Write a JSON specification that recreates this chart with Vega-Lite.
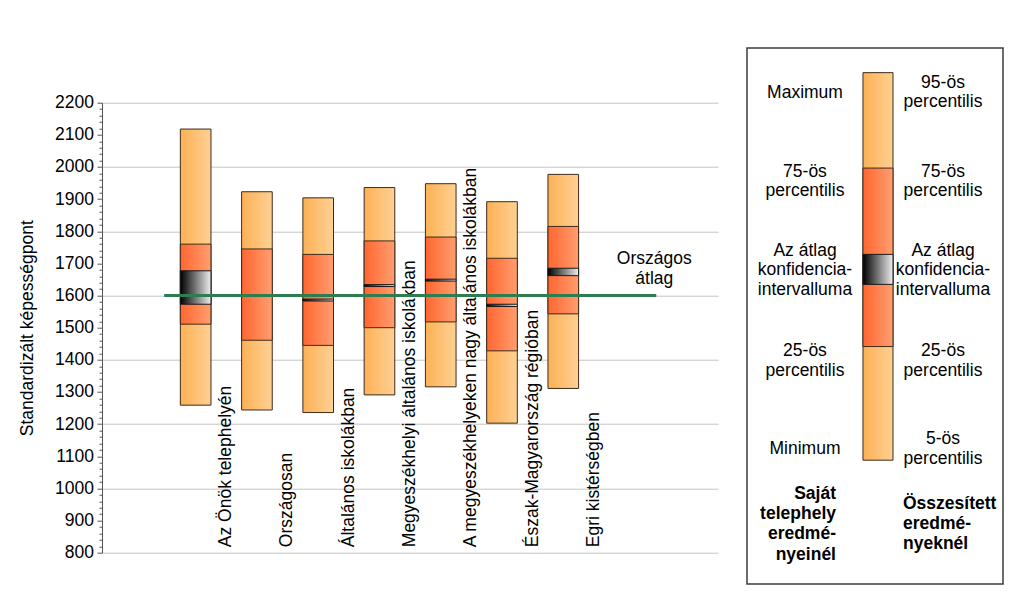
{
  "$schema": "https://vega.github.io/schema/vega-lite/v6.json",
  "padding": {"left": 18, "top": 47, "right": 10, "bottom": 5},
  "background": "white",
  "config": {"font": "Liberation Sans", "view": {"stroke": null}, "title": {"color": "#000"}},
  "spacing": 21,
  "resolve": {"scale": {"x": "independent", "y": "independent"}},
  "hconcat": [
    {"vconcat": [
    {
      "width": 616,
      "height": 27,
      "view": {"fill": "white", "stroke": null},
      "data": {"values": [{"felirat": " "}]},
      "mark": {"type": "text"},
      "encoding": {"text": {"field": "felirat"}}
    },
    {
      "width": 616,
      "height": 450,
      "data": {"values": [
        {"kategória": "Az Önök telephelyén", "min": 1259, "p25": 1511, "ci_also": 1573, "ci_felso": 1677, "p75": 1760, "max": 2118},
        {"kategória": "Országosan", "min": 1244, "p25": 1461, "ci_also": 1597, "ci_felso": 1603, "p75": 1745, "max": 1923},
        {"kategória": "Általános iskolákban", "min": 1236, "p25": 1445, "ci_also": 1583, "ci_felso": 1589, "p75": 1728, "max": 1904},
        {"kategória": "Megyeszékhelyi általános iskolákban", "min": 1291, "p25": 1500, "ci_also": 1628, "ci_felso": 1634, "p75": 1770, "max": 1936},
        {"kategória": "A megyeszékhelyeken nagy általános iskolákban", "min": 1316, "p25": 1518, "ci_also": 1645, "ci_felso": 1651, "p75": 1782, "max": 1948},
        {"kategória": "Észak-Magyarország régióban", "min": 1203, "p25": 1428, "ci_also": 1566, "ci_felso": 1573, "p75": 1716, "max": 1892},
        {"kategória": "Egri kistérségben", "min": 1311, "p25": 1543, "ci_also": 1662, "ci_felso": 1685, "p75": 1815, "max": 1977}
      ]},
      "layer": [
        {
          "mark": {"type": "bar", "stroke": "#3d2b1a", "strokeWidth": 1,
            "fill": {"gradient": "linear", "x1": 0, "y1": 0, "x2": 1, "y2": 0, "stops": [{"offset": 0, "color": "#FCB155"}, {"offset": 1, "color": "#FFD094"}]}},
          "encoding": {
            "x": {"field": "kategória", "type": "nominal", "sort": null,
              "scale": {"domain": [" ", "Az Önök telephelyén", "Országosan", "Általános iskolákban", "Megyeszékhelyi általános iskolákban", "A megyeszékhelyeken nagy általános iskolákban", "Észak-Magyarország régióban", "Egri kistérségben", "  ", "   "], "paddingInner": 0.5, "paddingOuter": 0.277, "align": 0.503},
              "axis": {"title": null, "labelAngle": -90, "labelAlign": "left", "labelBaseline": "middle", "labelPadding": -6, "labelOffset": 30.5, "ticks": false, "tickSize": 0, "domain": false, "grid": false, "labelLimit": 0, "labelOverlap": false, "labelFontSize": 17.5, "labelColor": "#000"}},
            "y": {"field": "min", "type": "quantitative",
              "scale": {"domain": [800, 2200], "nice": false, "zero": false},
              "axis": {"title": "Standardizált képességpont", "titleFontSize": 17.5, "titleFontWeight": "normal", "titleColor": "#000", "titlePadding": 18,
                "values": [800,820,840,860,880,900,920,940,960,980,1000,1020,1040,1060,1080,1100,1120,1140,1160,1180,1200,1220,1240,1260,1280,1300,1320,1340,1360,1380,1400,1420,1440,1460,1480,1500,1520,1540,1560,1580,1600,1620,1640,1660,1680,1700,1720,1740,1760,1780,1800,1820,1840,1860,1880,1900,1920,1940,1960,1980,2000,2020,2040,2060,2080,2100,2120,2140,2160,2180,2200],
                "tickCount": 200,
                "format": "d",
                "labelExpr": "datum.value % 100 === 0 ? datum.label : ''",
                "labelOverlap": false, "labelFontSize": 17.5, "labelColor": "#000", "labelPadding": 3.5,
                "tickSize": {"condition": {"test": "datum.value % 100 === 0", "value": 5}, "value": 3},
                "tickColor": "#555", "domainColor": "#555",
                "grid": true, "gridColor": "#c4c4c4",
                "gridOpacity": {"condition": {"test": "datum.value % 200 === 0", "value": 1}, "value": 0}}},
            "y2": {"field": "max"}
          }
        },
        {
          "mark": {"type": "bar", "stroke": "#3d2b1a", "strokeWidth": 1,
            "fill": {"gradient": "linear", "x1": 0, "y1": 0, "x2": 1, "y2": 0, "stops": [{"offset": 0, "color": "#FF6630"}, {"offset": 1, "color": "#FF9E70"}]}},
          "encoding": {
            "x": {"field": "kategória", "type": "nominal", "sort": null},
            "y": {"field": "p25", "type": "quantitative"},
            "y2": {"field": "p75"}
          }
        },
        {
          "mark": {"type": "bar", "stroke": "#1a1a1a", "strokeWidth": 1,
            "fill": {"gradient": "linear", "x1": 0, "y1": 0, "x2": 1, "y2": 0, "stops": [{"offset": 0, "color": "#000000"}, {"offset": 1, "color": "#EEEEEE"}]}},
          "encoding": {
            "x": {"field": "kategória", "type": "nominal", "sort": null},
            "y": {"field": "ci_also", "type": "quantitative"},
            "y2": {"field": "ci_felso"}
          }
        },
        {
          "data": {"values": [{"átlag": 1600, "első": "Az Önök telephelyén", "utolsó": "Egri kistérségben", "felirat": ["Országos", "átlag"]}]},
          "mark": {"type": "rule", "color": "#2E7D50", "strokeWidth": 3, "xOffset": -31.5, "x2Offset": 93},
          "encoding": {
            "x": {"field": "első", "type": "nominal", "sort": null},
            "x2": {"field": "utolsó"},
            "y": {"field": "átlag", "type": "quantitative"}
          }
        },
        {
          "data": {"values": [{"átlag": 1600, "első": "Az Önök telephelyén", "utolsó": "Egri kistérségben", "felirat": ["Országos", "átlag"]}]},
          "mark": {"type": "text", "fontSize": 17.5, "lineHeight": 20, "align": "center", "baseline": "middle", "dx": 91, "dy": -37, "color": "#000"},
          "encoding": {
            "x": {"field": "utolsó", "type": "nominal", "sort": null},
            "y": {"field": "átlag", "type": "quantitative"},
            "text": {"field": "felirat"}
          }
        }
      ]
    }
    ], "spacing": 18.7},
    {
      "width": 256,
      "height": 536,
      "view": {"stroke": "#3c3c3c", "strokeWidth": 1.5, "fill": "white"},
      "layer": [
        {
          "data": {"values": [{"oszlop": "sáv", "min": 76.9, "p25": 55.7, "ci_also": 44.1, "ci_felso": 38.5, "p75": 22.4, "max": 4.6}]},
          "layer": [
            {
              "mark": {"type": "bar", "stroke": "#3d2b1a", "strokeWidth": 1,
                "fill": {"gradient": "linear", "x1": 0, "y1": 0, "x2": 1, "y2": 0, "stops": [{"offset": 0, "color": "#FCB155"}, {"offset": 1, "color": "#FFD094"}]}},
              "encoding": {
                "x": {"field": "oszlop", "type": "nominal", "scale": {"domain": ["bal", "sáv", "jobb"], "paddingInner": 0.565, "paddingOuter": 0.6375, "align": 0.534}, "axis": null},
                "y": {"field": "min", "type": "quantitative", "scale": {"domain": [0, 100], "reverse": true, "nice": false, "zero": false}, "axis": null},
                "y2": {"field": "max"}
              }
            },
            {
              "mark": {"type": "bar", "stroke": "#3d2b1a", "strokeWidth": 1,
                "fill": {"gradient": "linear", "x1": 0, "y1": 0, "x2": 1, "y2": 0, "stops": [{"offset": 0, "color": "#FF6630"}, {"offset": 1, "color": "#FF9E70"}]}},
              "encoding": {
                "x": {"field": "oszlop", "type": "nominal"},
                "y": {"field": "p25", "type": "quantitative"},
                "y2": {"field": "p75"}
              }
            },
            {
              "mark": {"type": "bar", "stroke": "#1a1a1a", "strokeWidth": 1,
                "fill": {"gradient": "linear", "x1": 0, "y1": 0, "x2": 1, "y2": 0, "stops": [{"offset": 0, "color": "#000000"}, {"offset": 1, "color": "#EEEEEE"}]}},
              "encoding": {
                "x": {"field": "oszlop", "type": "nominal"},
                "y": {"field": "ci_also", "type": "quantitative"},
                "y2": {"field": "ci_felso"}
              }
            }
          ]
        },
        {
          "data": {"values": [
            {"oszlop": "bal", "szint": 8.34, "szöveg": ["Maximum"], "stílus": "normál"},
            {"oszlop": "bal", "szint": 23.08, "szöveg": ["75-ös", "percentilis"], "stílus": "normál"},
            {"oszlop": "bal", "szint": 37.87, "szöveg": ["Az átlag", "konfidencia-", "intervalluma"], "stílus": "normál"},
            {"oszlop": "bal", "szint": 56.53, "szöveg": ["25-ös", "percentilis"], "stílus": "normál"},
            {"oszlop": "bal", "szint": 74.81, "szöveg": ["Minimum"], "stílus": "normál"},
            {"oszlop": "bal", "szint": 83.15, "szöveg": ["Saját", "telephely", "eredmé-", "nyeinél"], "stílus": "félkövér"},
            {"oszlop": "jobb", "szint": 6.47, "szöveg": ["95-ös", "percentilis"], "stílus": "normál"},
            {"oszlop": "jobb", "szint": 23.08, "szöveg": ["75-ös", "percentilis"], "stílus": "normál"},
            {"oszlop": "jobb", "szint": 37.87, "szöveg": ["Az átlag", "konfidencia-", "intervalluma"], "stílus": "normál"},
            {"oszlop": "jobb", "szint": 56.53, "szöveg": ["25-ös", "percentilis"], "stílus": "normál"},
            {"oszlop": "jobb", "szint": 72.95, "szöveg": ["5-ös", "percentilis"], "stílus": "normál"},
            {"oszlop": "jobb", "szint": 85.13, "szöveg": ["Összesített", "eredmé-", "nyeknél"], "stílus": "félkövér"}
          ]},
          "layer": [
            {
              "transform": [{"filter": "datum['stílus'] === 'normál'"}],
              "mark": {"type": "text", "fontSize": 17.5, "lineHeight": 19.5, "align": "center", "baseline": "middle", "dx": -4, "color": "#000"},
              "encoding": {
                "x": {"field": "oszlop", "type": "nominal"},
                "y": {"field": "szint", "type": "quantitative"},
                "text": {"field": "szöveg"}
              }
            },
            {
              "transform": [{"filter": "datum['stílus'] === 'félkövér' && datum.oszlop === 'bal'"}],
              "mark": {"type": "text", "fontSize": 17.5, "fontWeight": "bold", "lineHeight": 20.4, "align": "right", "baseline": "middle", "dx": 27, "color": "#000"},
              "encoding": {
                "x": {"field": "oszlop", "type": "nominal"},
                "y": {"field": "szint", "type": "quantitative"},
                "text": {"field": "szöveg"}
              }
            },
            {
              "transform": [{"filter": "datum['stílus'] === 'félkövér' && datum.oszlop === 'jobb'"}],
              "mark": {"type": "text", "fontSize": 17.5, "fontWeight": "bold", "lineHeight": 20, "align": "left", "baseline": "middle", "dx": -44, "color": "#000"},
              "encoding": {
                "x": {"field": "oszlop", "type": "nominal"},
                "y": {"field": "szint", "type": "quantitative"},
                "text": {"field": "szöveg"}
              }
            }
          ]
        }
      ]
    }
  ]
}
